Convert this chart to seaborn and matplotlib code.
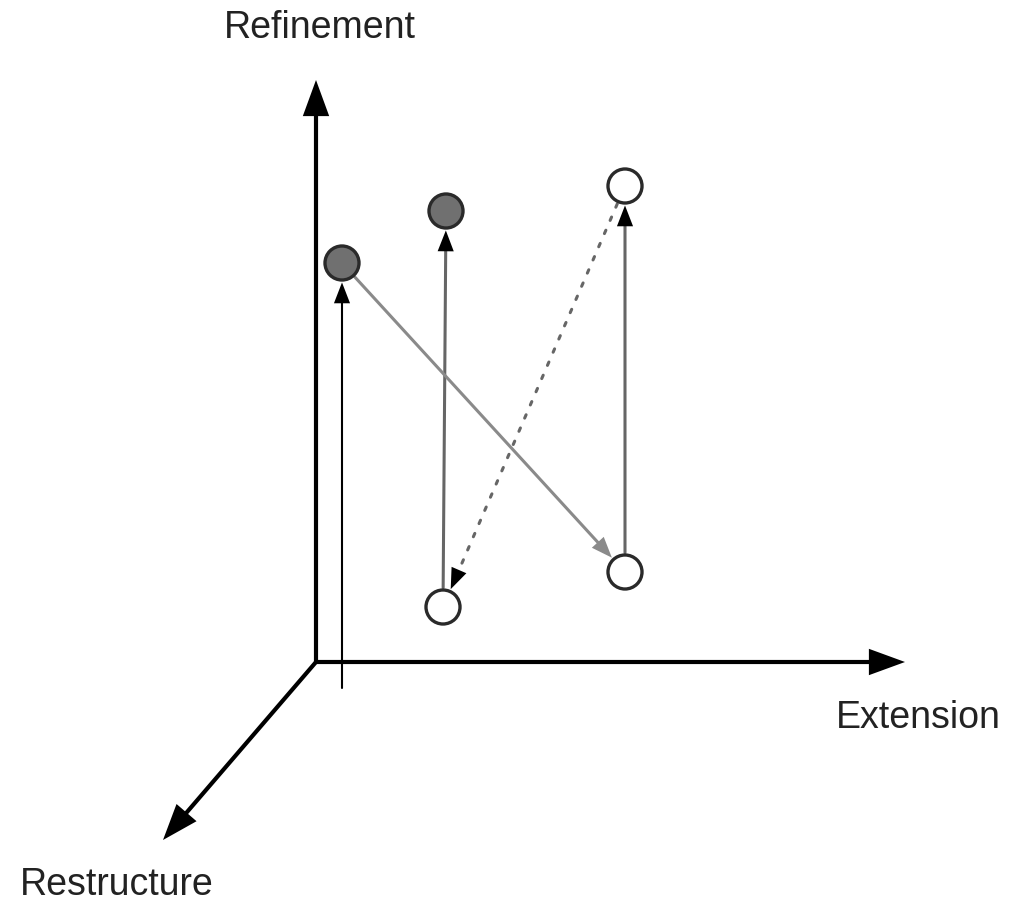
import pandas as pd
import matplotlib.pyplot as plt
import seaborn as sns

# node positions (image pixel units) and fill
node_x = [342, 446, 625, 443, 625]
node_y = [263, 211, 186, 607, 572]
node_fill = ["shaded", "shaded", "open", "open", "open"]

# edges between nodes: (from, to, style)
edge_from = [3, 4, 0, 2]
edge_to = [1, 2, 4, 3]
edge_style = ["solid", "solid", "gray", "dotted"]

# entry arrow into the first node
entry_start = (342, 688)

origin = (316, 662)
axis_tips = {"Refinement": (316, 80), "Extension": (905, 662), "Restructure": (163, 840)}
label_pos = {"Refinement": (320, 28), "Extension": (918, 718), "Restructure": (117, 885)}

sns.set_style("white")
fig, ax = plt.subplots(figsize=(10.12, 9.05), dpi=100)
fig.subplots_adjust(0, 0, 1, 1)
ax.set_xlim(0, 1012)
ax.set_ylim(905, 0)
ax.axis("off")

# axes of the diagram
for name, tip in axis_tips.items():
    ax.annotate("", xy=tip, xytext=origin,
                arrowprops=dict(arrowstyle="-", color="black", lw=3,
                                shrinkA=0, shrinkB=20))
    ax.annotate("", xy=tip, xytext=origin,
                arrowprops=dict(arrowstyle="-|>,head_length=2.6,head_width=0.95",
                                color="black", lw=0, shrinkA=0, shrinkB=0,
                                joinstyle="miter"))
    ax.text(*label_pos[name], name, fontsize=27, ha="center", va="center",
            family="Liberation Sans", color="#222222")

# entry arrow
ax.annotate("", xy=(node_x[0], node_y[0]), xytext=entry_start,
            arrowprops=dict(arrowstyle="-", color="black", lw=1.5,
                            shrinkA=0, shrinkB=25))
ax.annotate("", xy=(node_x[0], node_y[0]), xytext=entry_start,
            arrowprops=dict(arrowstyle="-|>,head_length=1.5,head_width=0.58",
                            color="black", lw=0, shrinkA=0, shrinkB=14))

styles = {
    "solid": dict(color="#666666", ls="-", head="black"),
    "gray": dict(color="#8a8a8a", ls="-", head="#8a8a8a"),
    "dotted": dict(color="#666666", ls=(0, (1.2, 3.5)), head="black"),
}
for a, b, s in zip(edge_from, edge_to, edge_style):
    st = styles[s]
    ax.annotate("", xy=(node_x[b], node_y[b]), xytext=(node_x[a], node_y[a]),
                arrowprops=dict(arrowstyle="-", color=st["color"], lw=2.2,
                                linestyle=st["ls"], shrinkA=14, shrinkB=24))
    ax.annotate("", xy=(node_x[b], node_y[b]), xytext=(node_x[a], node_y[a]),
                arrowprops=dict(arrowstyle="-|>,head_length=1.5,head_width=0.58",
                                color=st["head"], lw=0, shrinkA=14, shrinkB=14))

df = pd.DataFrame({"x": node_x, "y": node_y, "fill": node_fill})
sns.scatterplot(data=df, x="x", y="y", hue="fill",
                palette={"shaded": "#707070", "open": "white"},
                s=600, edgecolor="#2a2a2a", linewidth=2.4, legend=False,
                zorder=5, ax=ax)
ax.set_xlabel("")
ax.set_ylabel("")

plt.savefig("out.png", dpi=100)
